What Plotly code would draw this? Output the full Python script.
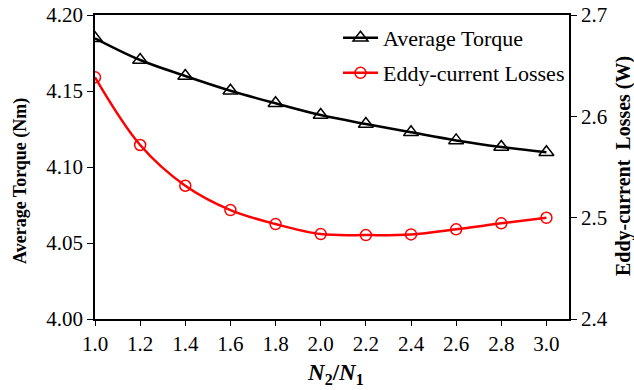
import plotly.graph_objects as go

ratio = [1.0, 1.2, 1.4, 1.6, 1.8, 2.0, 2.2, 2.4, 2.6, 2.8, 3.0]
torque = [4.1847, 4.1704, 4.1599, 4.1502, 4.1419, 4.1342, 4.1283, 4.1228, 4.1175, 4.1132, 4.1097]
eddy = [2.6385, 2.5717, 2.5315, 2.5075, 2.4937, 2.4838, 2.4828, 2.4835, 2.4885, 2.4944, 2.4999]

FONT = "Liberation Serif"
L, R, T, B = 95, 65, 15, 71
PW, PH = 634 - L - R, 390 - T - B

def px(xp):
    return (xp - L) / PW

def py(yp):
    return 1 - (yp - T) / PH

fig = go.Figure()
fig.add_trace(go.Scatter(
    x=ratio, y=torque, name="Average Torque", mode="lines+markers", legend="legend",
    line=dict(color="black", width=2.5, shape="spline"),
    marker=dict(symbol="triangle-up-open", size=13, color="black", line=dict(width=1.5)),
))
fig.add_trace(go.Scatter(
    x=ratio, y=eddy, name="Eddy-current Losses", mode="lines+markers", yaxis="y2",
    legend="legend2",
    line=dict(color="red", width=2.5, shape="spline"),
    marker=dict(symbol="circle-open", size=11, color="red", line=dict(width=1.5)),
))

leg = dict(xanchor="left", yanchor="middle", bgcolor="rgba(0,0,0,0)",
           font=dict(family=FONT, size=22, color="black"), itemwidth=35)

fig.update_layout(
    width=634, height=390,
    margin=dict(l=L, r=R, t=T, b=B, autoexpand=False),
    paper_bgcolor="white", plot_bgcolor="white",
    font=dict(family=FONT, size=21, color="black"),
    showlegend=True,
    legend=dict(x=px(338), y=py(38), **leg),
    legend2=dict(x=px(338), y=py(73), **leg),
    xaxis=dict(
        range=[1.0, 3.1], dtick=0.2, tick0=1.0, tickformat=".1f",
        showline=True, linecolor="black", linewidth=1.5, mirror=True,
        ticks="outside", ticklen=5, tickwidth=1, tickcolor="black",
        showgrid=False, zeroline=False, automargin=False,
        tickfont=dict(family=FONT, size=21),
    ),
    yaxis=dict(
        range=[4.0, 4.2], dtick=0.05, tickformat=".2f",
        showline=True, linecolor="black", linewidth=1.5,
        ticks="outside", ticklen=6, tickwidth=1, tickcolor="black",
        showgrid=False, zeroline=False, automargin=False,
        tickfont=dict(family=FONT, size=21),
    ),
    yaxis2=dict(
        range=[2.4, 2.7], dtick=0.1, tickformat=".1f", overlaying="y", side="right",
        showline=True, linecolor="black", linewidth=1.5,
        ticks="outside", ticklen=6, tickwidth=1, tickcolor="black",
        showgrid=False, zeroline=False, automargin=False,
        tickfont=dict(family=FONT, size=21),
    ),
    annotations=[
        dict(text="<b><i>N</i><sub><span style='font-size:16px'>2</span></sub>/<i>N</i>"
                  "<sub><span style='font-size:16px'>1</span></sub></b>",
             xref="paper", yref="paper", x=px(335), y=py(374),
             xanchor="center", yanchor="middle", showarrow=False,
             font=dict(family=FONT, size=23, color="black")),
        dict(text="<b>Average Torque (Nm)</b>", textangle=-90,
             xref="paper", yref="paper", x=px(20), y=py(181),
             xanchor="center", yanchor="middle", showarrow=False,
             font=dict(family=FONT, size=18, color="black")),
        dict(text="<b>Eddy-current&nbsp; Losses (W)</b>", textangle=-90,
             xref="paper", yref="paper", x=px(623), y=py(166),
             xanchor="center", yanchor="middle", showarrow=False,
             font=dict(family=FONT, size=20, color="black")),
    ],
)

fig.write_html("out.html")
